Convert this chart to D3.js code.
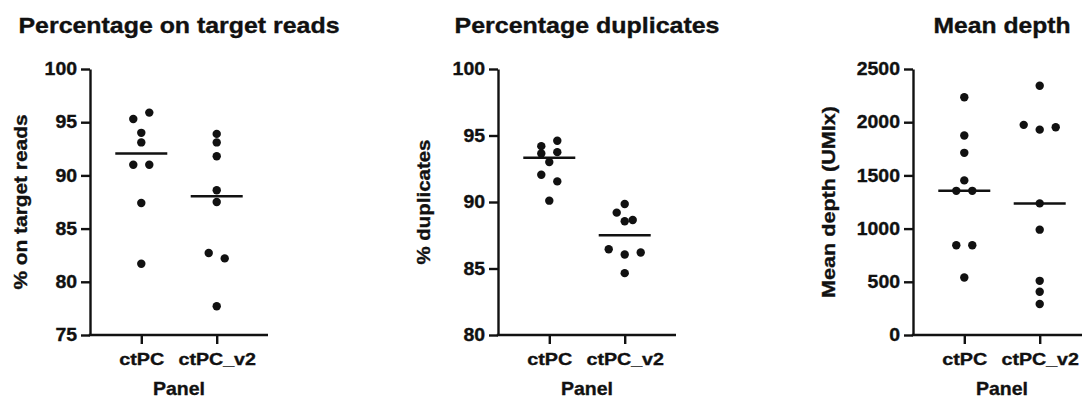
<!DOCTYPE html>
<html>
<head>
<meta charset="utf-8">
<script src="https://cdn.jsdelivr.net/npm/d3@7/dist/d3.min.js"></script>
<style>
  html, body { margin: 0; padding: 0; background: #fff; }
  svg { display: block; }
  text { font-family: "Liberation Sans", Arial, Helvetica, sans-serif; font-weight: bold; fill: #111; stroke: #111; stroke-width: 0.35px; }
</style>
</head>
<body>
<svg id="chart" width="1082" height="401"></svg>
<script>
// Panel categories shared by all three plots
const categories = ["ctPC", "ctPC_v2"];

// Percentage on target reads (%)
const onTargetCtPC = [95.3, 95.9, 94.0, 93.1, 91.0, 91.0, 87.4, 81.7];
const onTargetV2   = [93.9, 93.1, 91.8, 88.6, 87.5, 82.7, 82.2, 77.7];

// Percentage duplicates (%)
const dupCtPC = [94.2, 94.6, 93.65, 93.75, 93.0, 92.05, 91.55, 90.1];
const dupV2   = [89.85, 89.2, 88.65, 88.55, 86.45, 86.05, 86.2, 84.65];

// Mean depth (UMIx)
const depthCtPC = [2234, 1875, 1712, 1453, 1355, 1355, 844, 844, 541];
const depthV2   = [2343, 1975, 1930, 1953, 1237, 990, 509, 406, 291];

// Axis ticks
const onTargetTicks = [75, 80, 85, 90, 95, 100];
const dupTicks      = [80, 85, 90, 95, 100];
const depthTicks    = [0, 500, 1000, 1500, 2000, 2500];

const titles = ["Percentage on target reads", "Percentage duplicates", "Mean depth"];
const yLabels = ["% on target reads", "% duplicates", "Mean depth (UMIx)"];
const xLabel = "Panel";

const panels = [
  { title: titles[0], yLabel: yLabels[0], groups: [onTargetCtPC, onTargetV2], ticks: onTargetTicks,
    x0: 90, titleW: 321, yLabelX: -63.5, yLabelW: 175 },
  { title: titles[1], yLabel: yLabels[1], groups: [dupCtPC, dupV2], ticks: dupTicks,
    x0: 498, titleW: 265, yLabelX: -68.5, yLabelW: 125 },
  { title: titles[2], yLabel: yLabels[2], groups: [depthCtPC, depthV2], ticks: depthTicks,
    x0: 913, titleW: 137, yLabelX: -78, yLabelW: 192 }
];

const svg = d3.select("#chart");
const plotTop = 69, plotBottom = 335, axisW = 178;
const ink = "#111";
const dotR = 4.2, rowGap = 8, colStep = 16, medianHalf = 26;
const catLabelW = { "ctPC": 45, "ctPC_v2": 77.5 };

// Stretch a text element horizontally to a given length
function fit(sel, w) {
  sel.attr("textLength", w).attr("lengthAdjust", "spacingAndGlyphs");
}

// Group points whose pixel heights are within one dot of each other into rows,
// then spread each row symmetrically around the category centre.
function scatterLayout(values, y) {
  const pts = values.map((v, i) => ({ v, i, y: y(v) })).sort((a, b) => a.y - b.y);
  const rows = [];
  let cur = null;
  pts.forEach(p => {
    if (cur && p.y - cur[0].y < rowGap) cur.push(p);
    else { cur = [p]; rows.push(cur); }
  });
  rows.forEach(row => {
    row.sort((a, b) => a.i - b.i);
    row.forEach((p, k) => { p.dx = (k - (row.length - 1) / 2) * colStep; });
  });
  return pts;
}

panels.forEach(pn => {
  const g = svg.append("g").attr("transform", `translate(${pn.x0},0)`);

  const y = d3.scaleLinear()
    .domain(d3.extent(pn.ticks))
    .range([plotBottom, plotTop]);
  const x = d3.scalePoint()
    .domain(categories)
    .range([0, axisW])
    .padding(0.68);

  // Y axis
  const yAxis = g.append("g")
    .call(d3.axisLeft(y).tickValues(pn.ticks).tickFormat(d3.format("d"))
      .tickSize(9).tickSizeOuter(0).tickPadding(4));
  yAxis.select(".domain").attr("stroke", ink).attr("stroke-width", 2.4);
  yAxis.selectAll(".tick line").attr("stroke", ink).attr("stroke-width", 2.4);
  yAxis.selectAll(".tick text")
    .attr("font-size", 18).attr("font-family", null).attr("fill", ink)
    .each(function () { fit(d3.select(this), this.getComputedTextLength() * 1.08); });

  // X axis
  const xAxis = g.append("g")
    .attr("transform", `translate(0,${plotBottom})`)
    .call(d3.axisBottom(x).tickSize(9).tickSizeOuter(0));
  xAxis.select(".domain").attr("stroke", ink).attr("stroke-width", 2.4)
    .attr("d", `M-1.2,0H${axisW}`);
  xAxis.selectAll(".tick line").attr("stroke", ink).attr("stroke-width", 2.4);
  xAxis.selectAll(".tick text")
    .attr("font-size", 17).attr("font-family", null).attr("fill", ink)
    .attr("y", 30).attr("dy", null)
    .each(function (d) { fit(d3.select(this), catLabelW[d]); });

  // X axis title
  g.append("text")
    .attr("x", axisW / 2).attr("y", 395)
    .attr("text-anchor", "middle").attr("font-size", 19)
    .text(xLabel)
    .call(fit, 52);

  // Y axis title
  g.append("text")
    .attr("transform", `translate(${pn.yLabelX},${(plotTop + plotBottom) / 2}) rotate(-90)`)
    .attr("text-anchor", "middle").attr("font-size", 19)
    .text(pn.yLabel)
    .call(fit, pn.yLabelW);

  // Panel title
  g.append("text")
    .attr("x", axisW / 2).attr("y", 33)
    .attr("text-anchor", "middle").attr("font-size", 22)
    .text(pn.title)
    .call(fit, pn.titleW);

  // Points and median line per category
  pn.groups.forEach((vals, gi) => {
    const cx = x(categories[gi]);
    const pts = scatterLayout(vals, y);
    g.append("g").selectAll("circle")
      .data(pts)
      .join("circle")
      .attr("cx", d => cx + d.dx)
      .attr("cy", d => d.y)
      .attr("r", dotR)
      .attr("fill", ink);

    const med = d3.median(vals);
    g.append("line")
      .attr("x1", cx - medianHalf).attr("x2", cx + medianHalf)
      .attr("y1", y(med)).attr("y2", y(med))
      .attr("stroke", ink).attr("stroke-width", 2.5);
  });
});
</script>
</body>
</html>
